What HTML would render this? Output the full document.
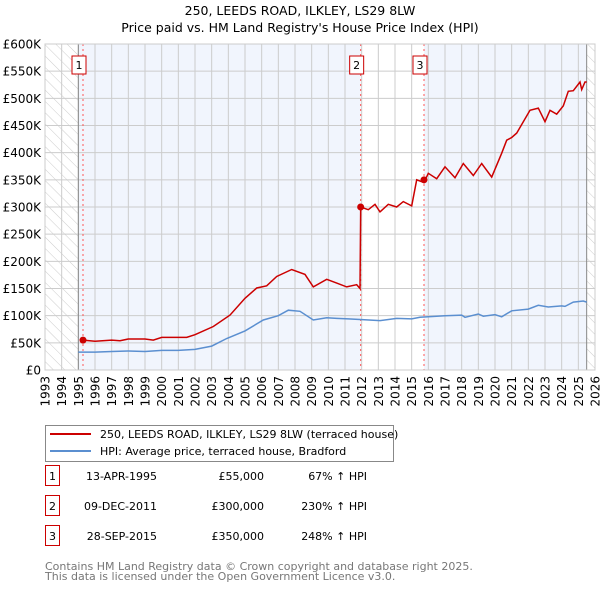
<!DOCTYPE html>
<html><head><meta charset="utf-8"><style>
body{margin:0;background:#fff;font-family:"Liberation Sans","DejaVu Sans",sans-serif;}
svg text{font-family:"DejaVu Sans","Liberation Sans",sans-serif;}
</style></head><body>
<svg id="c" width="600" height="590" xmlns="http://www.w3.org/2000/svg">
<defs><pattern id="hatch" width="8" height="8" patternUnits="userSpaceOnUse" patternTransform="rotate(-45)"><line x1="0" y1="0" x2="0" y2="8" stroke="#ccc" stroke-width="1"/></pattern></defs>
<text x="300" y="15" text-anchor="middle" font-size="12.5">250, LEEDS ROAD, ILKLEY, LS29 8LW</text>
<text x="300" y="32" text-anchor="middle" font-size="12.5">Price paid vs. HM Land Registry's House Price Index (HPI)</text>
<g id="plot"></g>
<g>
<rect x="45.5" y="425.5" width="348" height="36" fill="#fff" stroke="#888"/>
<line x1="50" y1="434" x2="91" y2="434" stroke="#cc0000" stroke-width="2"/>
<text x="100" y="438" font-size="11">250, LEEDS ROAD, ILKLEY, LS29 8LW (terraced house)</text>
<line x1="50" y1="451" x2="91" y2="451" stroke="#5b8fd0" stroke-width="2"/>
<text x="100" y="455" font-size="11">HPI: Average price, terraced house, Bradford</text>
</g>
<g id="tbl" font-size="11"></g>
<text x="45" y="570" font-size="11" fill="#777">Contains HM Land Registry data © Crown copyright and database right 2025.</text>
<text x="45" y="580" font-size="11" fill="#777">This data is licensed under the Open Government Licence v3.0.</text>
</svg>
<script>
const hpiYears=[1995,1996,1997,1998,1999,2000,2001,2002,2003,2003.9,2005,2006.1,2007,2007.6,2008.3,2009.1,2009.9,2010.5,2011.2,2011.9,2013.1,2014.1,2015,2015.5,2016,2017,2018,2018.2,2019,2019.3,2020,2020.4,2021,2022,2022.6,2023.2,2024,2024.2,2024.7,2025.3,2025.5];
const hpiValues=[33,33,34,35,34,36,36,38,44,58,72,92,100,110,108,92,96,95,94,93,91,95,94,97,98,100,101,97,103,99,102,98,109,112,119,116,118,117,125,127,125];
const propYears=[1995.28,1996,1997,1997.5,1998,1999,1999.5,2000,2001,2001.5,2002,2003.1,2004.1,2005,2005.7,2006.3,2006.9,2007.8,2008.6,2009.1,2009.9,2010.5,2011.1,2011.7,2011.9,2011.94,2012.4,2012.8,2013.1,2013.6,2014.1,2014.5,2015,2015.3,2015.74,2016,2016.5,2017,2017.6,2018.1,2018.7,2019.2,2019.8,2020.4,2020.7,2021,2021.3,2022.1,2022.6,2023,2023.3,2023.7,2024.1,2024.4,2024.7,2025.1,2025.2,2025.4,2025.5];
const propValues=[55,53,55,54,57,57,55,60,60,60,65,80,101,132,151,155,172,185,176,153,167,160,153,157,150,300,295,305,291,305,300,310,302,350,345,362,352,374,354,380,358,380,355,399,423,428,436,478,482,457,478,471,486,513,514,530,516,530,530];
const saleYears=[1995.28,2011.94,2015.74];
const saleValues=[55,300,350];
const saleLabels=["1","2","3"];
const saleDates=["13-APR-1995","09-DEC-2011","28-SEP-2015"];
const salePrices=["£55,000","£300,000","£350,000"];
const saleHpi=["67% ↑ HPI","230% ↑ HPI","248% ↑ HPI"];
const yTicks=[0,50,100,150,200,250,300,350,400,450,500,550,600];
const yTickLabels=["£0","£50K","£100K","£150K","£200K","£250K","£300K","£350K","£400K","£450K","£500K","£550K","£600K"];
const xYears=[1993,1994,1995,1996,1997,1998,1999,2000,2001,2002,2003,2004,2005,2006,2007,2008,2009,2010,2011,2012,2013,2014,2015,2016,2017,2018,2019,2020,2021,2022,2023,2024,2025,2026];

const L=45,R=595,T=44,B=370,NS='http://www.w3.org/2000/svg';
const X=y=>L+(y-1993)/(2026-1993)*(R-L);
const Y=v=>B-v/600*(B-T);
const g=document.getElementById('plot');
function mk(t,a,p){const e=document.createElementNS(NS,t);for(const k in a)e.setAttribute(k,a[k]);(p||g).appendChild(e);return e;}
let e;
e=mk('rect',{x:L,y:T,width:R-L,height:B-T,fill:'#fff'});


e=mk('rect',{x:X(1995),y:T,width:X(saleYears[1])-X(1995),height:B-T,fill:'#eef3fd',opacity:0.8});


e=mk('rect',{x:X(saleYears[2]),y:T,width:X(2025.5)-X(saleYears[2]),height:B-T,fill:'#eef3fd',opacity:0.8});


e=mk('rect',{x:L,y:T,width:X(1995)-L,height:B-T,fill:'url(#hatch)'});


e=mk('rect',{x:X(2025.5),y:T,width:R-X(2025.5),height:B-T,fill:'url(#hatch)'});


yTicks.forEach((v,i)=>{
 e=mk('line',{x1:L,x2:R,y1:Y(v),y2:Y(v),stroke:'#ccc','stroke-width':1});
 
 
 e=mk('text',{x:L-4,y:Y(v)+4.5,'text-anchor':'end','font-size':12});
 e.textContent=yTickLabels[i];
 
 
});
xYears.forEach(yr=>{
 e=mk('line',{x1:X(yr),x2:X(yr),y1:T,y2:B,stroke:'#ccc','stroke-width':1});
 
 
 e=mk('text',{x:0,y:0,'text-anchor':'end','font-size':12,transform:`translate(${X(yr)+4.5},${B+6}) rotate(-90)`});
 e.textContent=yr;
 
 
});
[1995,2025.5].forEach(yr=>{
 e=mk('line',{x1:X(yr),x2:X(yr),y1:T,y2:B,stroke:'#888','stroke-width':1});
 
 
});
saleYears.forEach((yr,i)=>{
 e=mk('line',{x1:X(yr),x2:X(yr),y1:T,y2:B,stroke:'#ff5555','stroke-width':1,'stroke-dasharray':'2,3'});
 
 
});
const path=(xs,vs)=>xs.map((x,i)=>(i?'L':'M')+X(x).toFixed(1)+','+Y(vs[i]).toFixed(1)).join('');
e=mk('path',{d:path(hpiYears,hpiValues),fill:'none',stroke:'#5b8fd0','stroke-width':1.5});


e=mk('path',{d:path(propYears,propValues),fill:'none',stroke:'#cc0000','stroke-width':1.5});


saleYears.forEach((yr,i)=>{
 e=mk('circle',{cx:X(yr),cy:Y(saleValues[i]),r:3.5,fill:'#cc0000'});
 
 
 e=mk('rect',{x:X(yr)-11,y:56,width:14,height:18,fill:'#fff',stroke:'#cc0000'});
 
 
 e=mk('text',{x:X(yr)-4,y:69,'text-anchor':'middle','font-size':11});
 e.textContent=saleLabels[i];
 
 
});
e=mk('rect',{x:L,y:T,width:R-L,height:B-T,fill:'none',stroke:'#ccc'});


const t=document.getElementById('tbl');
saleLabels.forEach((s,i)=>{
 const y=483+i*30;
 e=mk('rect',{x:45.5,y:y-17.5,width:14,height:20,fill:'#fff',stroke:'#cc0000'},t);
 
 
 e=mk('text',{x:52.5,y:y-3,'text-anchor':'middle'},t);e.textContent=s;
 
 
 e=mk('text',{x:157,y:y-3,'text-anchor':'end'},t);e.textContent=saleDates[i];
 
 
 e=mk('text',{x:264,y:y-3,'text-anchor':'end'},t);e.textContent=salePrices[i];
 
 
 e=mk('text',{x:367,y:y-3,'text-anchor':'end'},t);e.textContent=saleHpi[i];
 
 
});
</script>
</body></html>
